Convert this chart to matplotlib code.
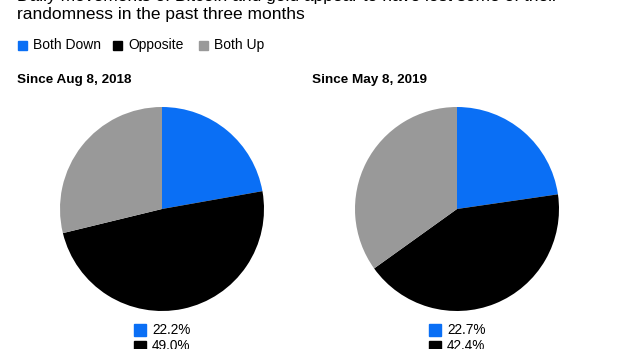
import matplotlib.pyplot as plt
from matplotlib.patches import Rectangle

plt.rcParams['font.family'] = ['Liberation Sans', 'DejaVu Sans']

categories = ['Both Down', 'Opposite', 'Both Up']
colors = ['#0a6ff5', '#000000', '#999999']
titles = ['Since Aug 8, 2018', 'Since May 8, 2019']
values_2018 = [22.2, 49.0, 28.8]
values_2019 = [22.7, 42.4, 34.9]

W, H = 620, 349
fig = plt.figure(figsize=(W / 100, H / 100), dpi=100)


def px(x, y):
    return x / W, 1 - y / H


fig.text(*px(17, -4), 'Daily movements of Bitcoin and gold appear to have lost some of their',
         fontsize=12.5, va='center', ha='left')
fig.text(*px(17, 15), 'randomness in the past three months',
         fontsize=12.5, va='center', ha='left')

# legend
leg_x = [18, 113, 199]
for lx, cat, col in zip(leg_x, categories, colors):
    fig.patches.append(Rectangle(px(lx, 49.5), 9 / W, 9 / H, color=col,
                                 transform=fig.transFigure, figure=fig))
    fig.text(*px(lx + 15, 45), cat, fontsize=10, va='center', ha='left')

pies = [(values_2018, 162, 17, 134), (values_2019, 457, 312, 429)]
for (vals, cx, tx, lx), title in zip(pies, titles):
    fig.text(*px(tx, 80), title, fontsize=9.7, fontweight='bold', va='center', ha='left')
    r = 102
    ax = fig.add_axes([(cx - r) / W, (H - 209 - r) / H, 2 * r / W, 2 * r / H])
    ax.pie(vals, colors=colors, startangle=90, counterclock=False, radius=1,
           wedgeprops=dict(linewidth=0))
    ax.set_xlim(-1, 1)
    ax.set_ylim(-1, 1)
    ax.set_aspect('auto')
    ax.axis('off')
    for i, (v, col) in enumerate(zip(vals, colors)):
        y = 329.5 + 17 * i
        fig.patches.append(Rectangle(px(lx, y + 6), 12 / W, 12 / H, color=col,
                                     transform=fig.transFigure, figure=fig))
        fig.text(*px(lx + 18, y), f'{v:.1f}%', fontsize=9.8, va='center', ha='left')

fig.savefig('out.png', dpi=100)
